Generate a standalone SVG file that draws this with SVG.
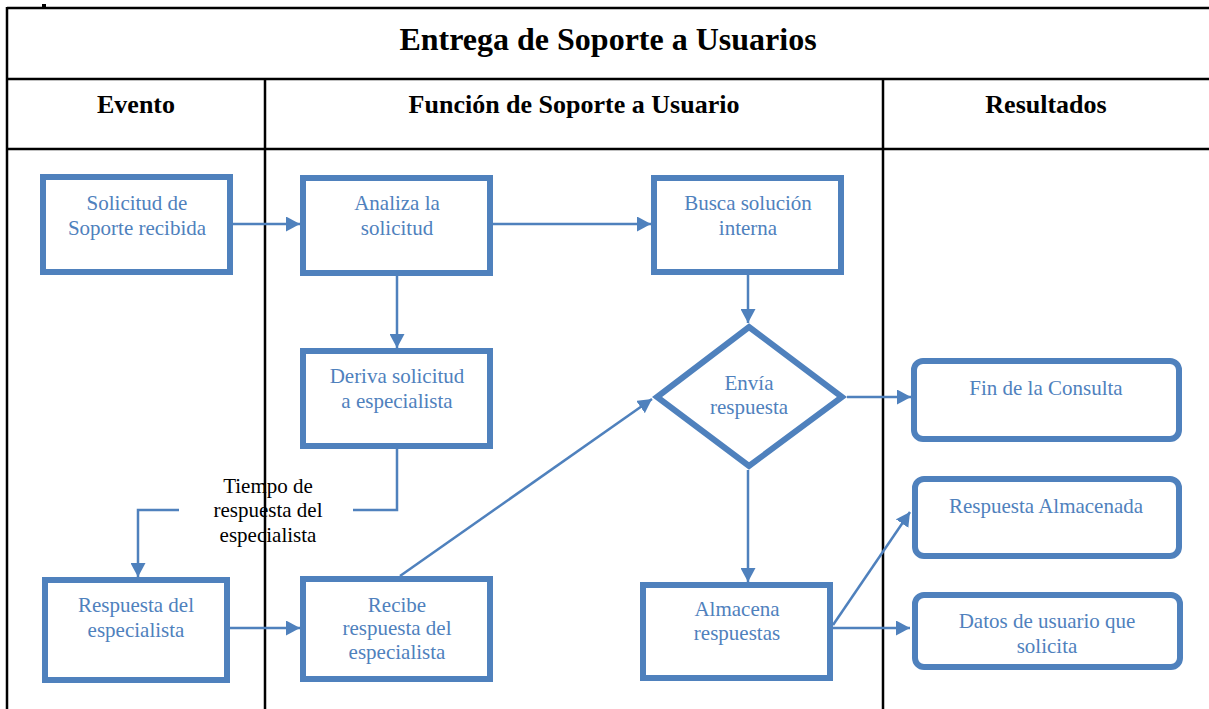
<svg xmlns="http://www.w3.org/2000/svg" width="1209" height="709" viewBox="0 0 1209 709">
<style>
.grid{stroke:#000;stroke-width:2.5;fill:none}
.box{fill:#fff;stroke:#4f81bd;stroke-width:6}
.nt{font-family:"Liberation Serif","Times New Roman",serif;font-size:21px;fill:#4f81bd;text-anchor:middle}
.hd{font-family:"Liberation Serif","Times New Roman",serif;font-size:26px;font-weight:bold;fill:#000;text-anchor:middle}
.ttl{font-family:"Liberation Serif","Times New Roman",serif;font-size:32px;font-weight:bold;fill:#000;text-anchor:middle}
.lbl{font-family:"Liberation Serif","Times New Roman",serif;font-size:21px;fill:#000;text-anchor:middle}
.cn{stroke:#4f81bd;stroke-width:2.5;fill:none}
.ca{stroke:#4f81bd;stroke-width:2.5;fill:none;marker-end:url(#ah)}
</style>
<defs>
<marker id="ah" markerUnits="userSpaceOnUse" markerWidth="15" markerHeight="15" refX="14" refY="7.5" orient="auto" viewBox="0 0 15 15">
<path d="M0,0 L14,7.5 L0,15 z" fill="#4f81bd"/>
</marker>
</defs>
<rect width="1209" height="709" fill="#fff"/>
<g id="table">
<line class="grid" x1="7" y1="8" x2="1209" y2="8"/>
<line class="grid" x1="7" y1="79" x2="1209" y2="79"/>
<line class="grid" x1="7" y1="149" x2="1209" y2="149"/>
<line class="grid" x1="7" y1="7" x2="7" y2="709"/>
<line class="grid" x1="265" y1="79" x2="265" y2="709"/>
<line class="grid" x1="883" y1="79" x2="883" y2="709"/>
<rect x="42" y="4" width="4" height="3" fill="#000"/>
<text class="ttl" x="608" y="50">Entrega de Soporte a Usuarios</text>
<text class="hd" x="136" y="113">Evento</text>
<text class="hd" x="574" y="113">Función de Soporte a Usuario</text>
<text class="hd" x="1046" y="113">Resultados</text>
</g>
<g id="connectors">
<line class="ca" x1="233" y1="224" x2="300" y2="224"/>
<line class="ca" x1="493" y1="224" x2="651" y2="224"/>
<line class="ca" x1="397" y1="276" x2="397" y2="348"/>
<line class="ca" x1="748" y1="275" x2="748" y2="323"/>
<line class="ca" x1="847" y1="397" x2="911" y2="397"/>
<polyline class="cn" points="397,449 397,510 353,510"/>
<polyline class="ca" points="179,510 138,510 138,577"/>
<line class="ca" x1="230" y1="628" x2="300" y2="628"/>
<line class="ca" x1="400" y1="576" x2="652" y2="399"/>
<line class="ca" x1="748" y1="470" x2="748" y2="582"/>
<line class="ca" x1="833" y1="625" x2="910" y2="512"/>
<line class="ca" x1="833" y1="628" x2="910" y2="628"/>
<text class="lbl" x="268" y="493">Tiempo de</text>
<text class="lbl" x="268" y="517">respuesta del</text>
<text class="lbl" x="268" y="542">especialista</text>
</g>
<g id="n-solicitud">
<rect class="box" x="43" y="177" width="187" height="95"/>
<text class="nt" x="137" y="210">Solicitud de</text>
<text class="nt" x="137" y="235">Soporte recibida</text>
</g>
<g id="n-analiza">
<rect class="box" x="303" y="178" width="187" height="95"/>
<text class="nt" x="397" y="210">Analiza la</text>
<text class="nt" x="397" y="235">solicitud</text>
</g>
<g id="n-busca">
<rect class="box" x="654" y="178" width="187" height="94"/>
<text class="nt" x="748" y="210">Busca solución</text>
<text class="nt" x="748" y="235">interna</text>
</g>
<g id="n-deriva">
<rect class="box" x="303" y="351" width="187" height="95"/>
<text class="nt" x="397" y="383">Deriva solicitud</text>
<text class="nt" x="397" y="408">a especialista</text>
</g>
<g id="n-envia">
<polygon class="box" points="749,327 842,397 749,466 657,397"/>
<text class="nt" x="749" y="390">Envía</text>
<text class="nt" x="749" y="414">respuesta</text>
</g>
<g id="n-respuesta-esp">
<rect class="box" x="45" y="580" width="182" height="100"/>
<text class="nt" x="136" y="612">Respuesta del</text>
<text class="nt" x="136" y="637">especialista</text>
</g>
<g id="n-recibe">
<rect class="box" x="303" y="579" width="187" height="100"/>
<text class="nt" x="397" y="612">Recibe</text>
<text class="nt" x="397" y="635">respuesta del</text>
<text class="nt" x="397" y="659">especialista</text>
</g>
<g id="n-almacena">
<rect class="box" x="643" y="585" width="187" height="93"/>
<text class="nt" x="737" y="616">Almacena</text>
<text class="nt" x="737" y="640">respuestas</text>
</g>
<g id="n-fin">
<rect class="box" x="914" y="361" width="265" height="78" rx="9"/>
<text class="nt" x="1046" y="395">Fin de la Consulta</text>
</g>
<g id="n-almacenada">
<rect class="box" x="915" y="479" width="264" height="77" rx="9"/>
<text class="nt" x="1046" y="513">Respuesta Almacenada</text>
</g>
<g id="n-datos">
<rect class="box" x="915" y="595" width="265" height="72" rx="9"/>
<text class="nt" x="1047" y="628">Datos de usuario que</text>
<text class="nt" x="1047" y="653">solicita</text>
</g>
</svg>
